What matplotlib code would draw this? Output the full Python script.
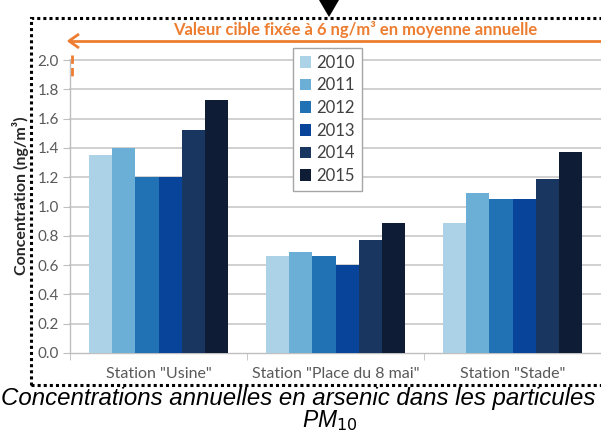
import matplotlib.pyplot as plt
from matplotlib.patches import Rectangle, Polygon
from matplotlib.lines import Line2D
import numpy as np

# data
stations = ['Station "Usine"', 'Station "Place du 8 mai"', 'Station "Stade"']
years = ['2010', '2011', '2012', '2013', '2014', '2015']
usine = [1.35, 1.40, 1.20, 1.20, 1.52, 1.73]
place = [0.66, 0.69, 0.66, 0.60, 0.77, 0.89]
stade = [0.89, 1.09, 1.05, 1.05, 1.19, 1.37]
yticks = [0.0, 0.2, 0.4, 0.6, 0.8, 1.0, 1.2, 1.4, 1.6, 1.8, 2.0]

colors = ['#acd2e8', '#6baed6', '#2171b5', '#08449a', '#18365f', '#0e1d35']
orange = '#ed7d31'
grey = '#595959'

W, H = 601, 432
plt.rcParams['font.family'] = ['Lato', 'DejaVu Sans']

fig = plt.figure(figsize=(W / 100, H / 100), dpi=100)

def px(x, y):
    # pixel position (from top-left) -> figure fraction
    return x / W, 1 - y / H

# axes: y=0 at 353 px, y=2.0 at 60 px, x from 70 px to right edge
ax = fig.add_axes([70 / W, 1 - 353 / H, (601 - 70) / W, (353 - 60) / H])

values = np.array([usine, place, stade])
x = np.arange(len(stations))
bw = 0.13
for i, yr in enumerate(years):
    ax.bar(x + (i - 2.5) * bw, values[:, i], width=bw, color=colors[i],
           label=yr, zorder=3)

ax.set_xlim(-0.5, 2.5)
ax.set_ylim(0, 2.0)
ax.set_yticks(yticks)
ax.set_yticklabels(['%.1f' % v for v in yticks], color=grey, fontsize=11)
ax.set_xticks(x)
ax.set_xticklabels(stations, color=grey, fontsize=11.5)
ax.set_xticks([-0.5, 0.5, 1.5, 2.5], minor=True)
ax.tick_params(axis='x', which='major', length=0, pad=10)
ax.tick_params(axis='x', which='minor', length=5, color='#bfbfbf', direction='out')
ax.tick_params(axis='y', length=5, color='#bfbfbf', direction='out', pad=3)

for v in yticks[1:]:
    ax.axhline(v, color='#c8c8c8', lw=1.2, zorder=1, clip_on=False)
for s in ['top', 'right']:
    ax.spines[s].set_visible(False)
for s in ['left', 'bottom']:
    ax.spines[s].set_color('#bfbfbf')
    ax.spines[s].set_linewidth(1.0)

leg = ax.legend(loc='upper left', bbox_to_anchor=px(293, 48),
                bbox_transform=fig.transFigure, borderaxespad=0, fontsize=12,
                handlelength=0.7, handleheight=0.7, handletextpad=0.3,
                labelspacing=0.4, borderpad=0.4, fancybox=False,
                edgecolor='#a6a6a6', framealpha=1)
for t in leg.get_texts():
    t.set_color('#404040')
leg.get_frame().set_linewidth(1.0)
leg.set_zorder(5)

fig.text(*px(21, 196), 'Concentration (ng/m³)', rotation=90, ha='center',
         va='center', fontsize=11.5, fontweight='bold', color='#262626')

# orange target line with arrow
fig.add_artist(Line2D([px(70, 41)[0], 1.0], [px(0, 41)[1]] * 2,
                      color=orange, lw=2))
fig.add_artist(Line2D([px(79, 34)[0], px(69, 41)[0], px(79, 48)[0]],
                      [px(79, 34)[1], px(69, 41)[1], px(79, 48)[1]],
                      color=orange, lw=2, solid_capstyle='butt'))
fig.add_artist(Line2D([px(72, 55)[0]] * 2, [px(0, 55)[1], px(0, 78)[1]],
                      color=orange, lw=2, linestyle=(0, (3, 1.5))))
fig.text(*px(355, 29), 'Valeur cible fixée à 6 ng/m³ en moyenne annuelle',
         ha='center', va='center', fontsize=12, fontweight='bold', color=orange)

# black marker at top
fig.add_artist(Polygon([px(319, 0), px(339, 0), px(329, 17)], closed=True,
                       facecolor='black', edgecolor='none',
                       transform=fig.transFigure))

# dotted frame
x0, y1 = px(31, 18)
x1, y0 = px(640, 385)
fig.add_artist(Rectangle((x0, y0), x1 - x0, y1 - y0, fill=False,
                         edgecolor='black', lw=2.2, linestyle=(0, (1, 1)),
                         transform=fig.transFigure, clip_on=False))

fig.text(*px(298, 399), 'Concentrations annuelles en arsenic dans les particules',
         ha='center', va='center', fontsize=17.3, style='italic',
         family='Liberation Sans', color='black')
fig.text(*px(330, 421), r'PM$_{10}$', ha='center', va='center', fontsize=16.5,
         style='italic', family='Liberation Sans', color='black')

fig.savefig('out.png', dpi=100)
